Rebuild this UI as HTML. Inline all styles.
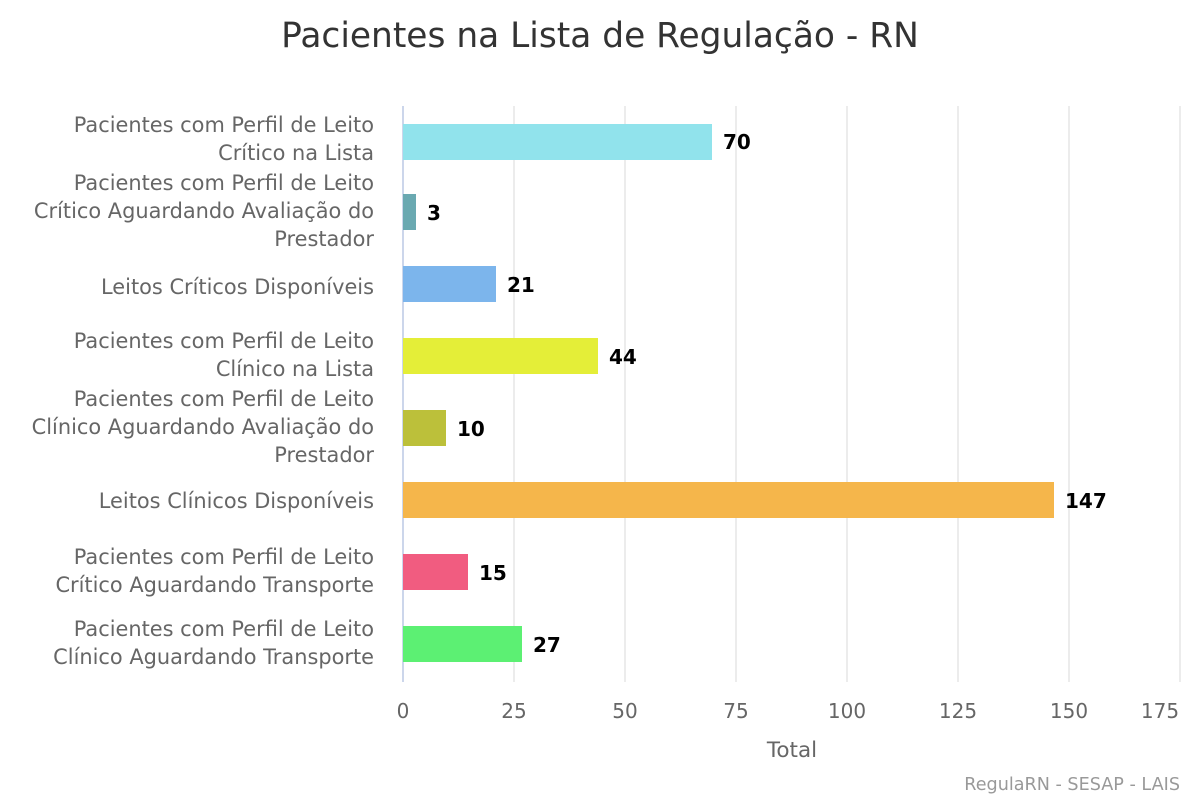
<!DOCTYPE html>
<html><head><meta charset="utf-8"><style>
body{margin:0;background:#fff;}
</style></head><body>
<svg width="1200" height="800" xmlns="http://www.w3.org/2000/svg" font-family="DejaVu Sans, sans-serif">
<rect width="1200" height="800" fill="#fff"/>
<text x="600" y="47" text-anchor="middle" font-size="34.4" fill="#333">Pacientes na Lista de Regulação - RN</text>
<g stroke="#e6e6e6" stroke-width="1.5">
<line x1="514" y1="106" x2="514" y2="682"/>
<line x1="625" y1="106" x2="625" y2="682"/>
<line x1="736" y1="106" x2="736" y2="682"/>
<line x1="847" y1="106" x2="847" y2="682"/>
<line x1="958" y1="106" x2="958" y2="682"/>
<line x1="1069" y1="106" x2="1069" y2="682"/>
<line x1="1180" y1="106" x2="1180" y2="682"/>
</g>
<line x1="403" y1="106" x2="403" y2="682" stroke="#ccd6eb" stroke-width="2"/>
<g>
<rect x="403" y="124" width="309" height="36" fill="#91e3ec"/>
<rect x="403" y="194" width="13" height="36" fill="#6aa9b1"/>
<rect x="403" y="266" width="93" height="36" fill="#7cb5ec"/>
<rect x="403" y="338" width="195" height="36" fill="#e4ee38"/>
<rect x="403" y="410" width="43" height="36" fill="#bcc03a"/>
<rect x="403" y="482" width="651" height="36" fill="#f5b64b"/>
<rect x="403" y="554" width="65" height="36" fill="#f15c80"/>
<rect x="403" y="626" width="119" height="36" fill="#5cf073"/>
</g>
<g font-size="20" font-weight="bold" fill="#000">
<text x="723" y="149">70</text>
<text x="427" y="220">3</text>
<text x="507" y="292">21</text>
<text x="609" y="364">44</text>
<text x="457" y="436">10</text>
<text x="1065" y="508">147</text>
<text x="479" y="580">15</text>
<text x="533" y="652">27</text>
</g>
<g font-size="20.9" fill="#666" text-anchor="end">
<text x="374" y="132">Pacientes com Perfil de Leito</text>
<text x="374" y="160">Crítico na Lista</text>
<text x="374" y="190">Pacientes com Perfil de Leito</text>
<text x="374" y="218">Crítico Aguardando Avaliação do</text>
<text x="374" y="246">Prestador</text>
<text x="374" y="294">Leitos Críticos Disponíveis</text>
<text x="374" y="348">Pacientes com Perfil de Leito</text>
<text x="374" y="376">Clínico na Lista</text>
<text x="374" y="406">Pacientes com Perfil de Leito</text>
<text x="374" y="434">Clínico Aguardando Avaliação do</text>
<text x="374" y="462">Prestador</text>
<text x="374" y="508">Leitos Clínicos Disponíveis</text>
<text x="374" y="564">Pacientes com Perfil de Leito</text>
<text x="374" y="592">Crítico Aguardando Transporte</text>
<text x="374" y="636">Pacientes com Perfil de Leito</text>
<text x="374" y="664">Clínico Aguardando Transporte</text>
</g>
<g font-size="20" fill="#666" text-anchor="middle">
<text x="403" y="718">0</text>
<text x="514" y="718">25</text>
<text x="625" y="718">50</text>
<text x="736" y="718">75</text>
<text x="847" y="718">100</text>
<text x="958" y="718">125</text>
<text x="1069" y="718">150</text>
<text x="1160" y="718">175</text>
</g>
<text x="792" y="757" text-anchor="middle" font-size="21.5" fill="#666">Total</text>
<text x="1180" y="790" text-anchor="end" font-size="17.6" fill="#999">RegulaRN - SESAP - LAIS</text>
</svg>
</body></html>
